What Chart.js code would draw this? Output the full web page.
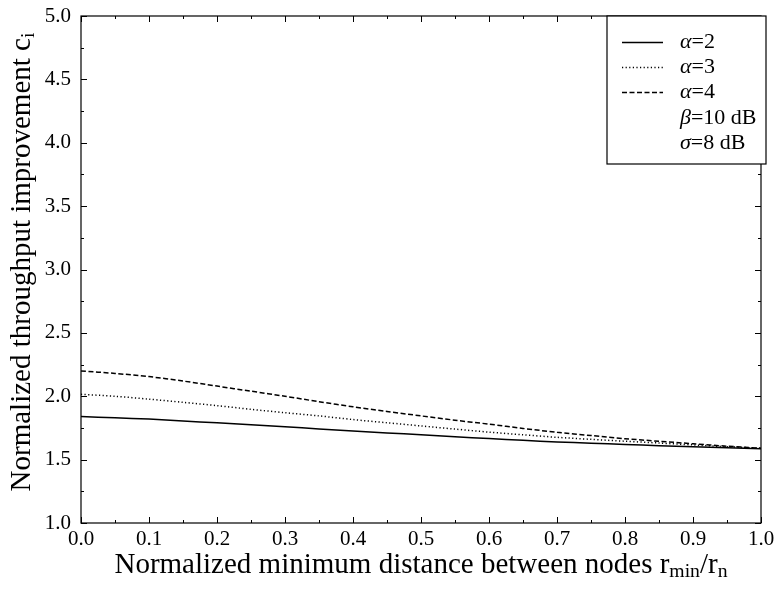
<!DOCTYPE html>
<html>
<head>
<meta charset="utf-8">
<script src="https://cdn.jsdelivr.net/npm/chart.js@4/dist/chart.umd.min.js"></script>
<style>
  html, body { margin: 0; padding: 0; background: #fff; }
  #wrap { width: 775px; height: 589px; }
</style>
</head>
<body>
<div id="wrap"><canvas id="c" width="775" height="589"></canvas></div>
<script>
// Normalized minimum distance r_min / r_n
const distances = [0.00, 0.05, 0.10, 0.15, 0.20, 0.25, 0.30, 0.35, 0.40, 0.45, 0.50,
                   0.55, 0.60, 0.65, 0.70, 0.75, 0.80, 0.85, 0.90, 0.95, 1.00];
// Throughput improvement c_i for each path-loss exponent
const alpha2 = [1.840, 1.830, 1.820, 1.805, 1.790, 1.775, 1.760, 1.742, 1.726, 1.711, 1.696,
                1.681, 1.666, 1.652, 1.640, 1.630, 1.620, 1.610, 1.601, 1.594, 1.586];
const alpha3 = [2.015, 2.000, 1.977, 1.952, 1.926, 1.897, 1.870, 1.845, 1.816, 1.791, 1.766,
                1.741, 1.717, 1.696, 1.676, 1.660, 1.645, 1.631, 1.616, 1.602, 1.590];
const alpha4 = [2.200, 2.180, 2.155, 2.120, 2.080, 2.040, 2.000, 1.957, 1.917, 1.880, 1.845,
                1.811, 1.780, 1.746, 1.716, 1.690, 1.665, 1.645, 1.625, 1.606, 1.590];
const xTickValues = [0, 0.1, 0.2, 0.3, 0.4, 0.5, 0.6, 0.7, 0.8, 0.9, 1.0];
const yTickValues = [1.0, 1.5, 2.0, 2.5, 3.0, 3.5, 4.0, 4.5, 5.0];
const legendNotes = [["β", "=10 dB"], ["σ", "=8 dB"]];

const SERIF = '"Liberation Serif", "Times New Roman", serif';

function toPoints(ys) { return distances.map((x, i) => ({ x: x, y: ys[i] })); }

const series = [
  { label: "2", data: alpha2, dash: [] },
  { label: "3", data: alpha3, dash: [1.2, 2.4] },
  { label: "4", data: alpha4, dash: [5, 2.5] }
];

// Measures / draws a string made of [text, isSub, isItalic] pieces
function richWidth(ctx, pieces, size) {
  let w = 0;
  for (const p of pieces) {
    const s = p[1] ? size * 0.68 : size;
    ctx.font = (p[2] ? "italic " : "") + s + "px " + SERIF;
    w += ctx.measureText(p[0]).width;
  }
  return w;
}
function richDraw(ctx, pieces, x, y, size) {
  for (const p of pieces) {
    const s = p[1] ? size * 0.68 : size;
    ctx.font = (p[2] ? "italic " : "") + s + "px " + SERIF;
    ctx.fillText(p[0], x, p[1] ? y + size * 0.22 : y);
    x += ctx.measureText(p[0]).width;
  }
}

const framePlugin = {
  id: "frameTicks",
  afterDraw(chart) {
    const ctx = chart.ctx;
    const a = chart.chartArea;
    const xs = chart.scales.x, ys = chart.scales.y;
    ctx.save();
    ctx.strokeStyle = "#000";
    ctx.lineWidth = 1.2;
    ctx.setLineDash([]);
    ctx.strokeRect(a.left, a.top, a.right - a.left, a.bottom - a.top);

    // inward ticks on all four sides
    ctx.lineWidth = 1;
    ctx.beginPath();
    for (let i = 0; i <= 20; i++) {
      const px = Math.round(xs.getPixelForValue(i * 0.05)) + 0.5;
      const len = i % 2 === 0 ? 6 : 3;
      ctx.moveTo(px, a.bottom); ctx.lineTo(px, a.bottom - len);
      ctx.moveTo(px, a.top); ctx.lineTo(px, a.top + len);
    }
    for (let i = 0; i <= 16; i++) {
      const py = Math.round(ys.getPixelForValue(1 + i * 0.25)) + 0.5;
      const len = i % 2 === 0 ? 6 : 3;
      ctx.moveTo(a.left, py); ctx.lineTo(a.left + len, py);
      ctx.moveTo(a.right, py); ctx.lineTo(a.right - len, py);
    }
    ctx.stroke();

    // axis titles
    ctx.fillStyle = "#000";
    ctx.textBaseline = "middle";
    ctx.textAlign = "left";
    const tSize = 29;
    const xt = [["Normalized minimum distance between nodes r", false], ["min", true], ["/r", false], ["n", true]];
    const xw = richWidth(ctx, xt, tSize);
    richDraw(ctx, xt, (a.left + a.right) / 2 - xw / 2, 565, tSize);

    const yt = [["Normalized throughput improvement c", false], ["i", true]];
    const yw = richWidth(ctx, yt, tSize);
    ctx.save();
    ctx.translate(22, 262);
    ctx.rotate(-Math.PI / 2);
    richDraw(ctx, yt, -yw / 2, 0, tSize);
    ctx.restore();

    // legend box
    const bx = 607, by = a.top, bw = 766 - 607, bh = 148;
    ctx.fillStyle = "#fff";
    ctx.fillRect(bx, by, bw, bh);
    ctx.lineWidth = 1.2;
    ctx.strokeRect(bx, by, bw, bh);
    ctx.fillStyle = "#000";
    const rowY = [42, 67, 92, 118, 143];
    const lSize = 22;
    chart.data.datasets.forEach((ds, i) => {
      const y = rowY[i] + 0.5;
      ctx.beginPath();
      ctx.setLineDash(ds.borderDash || []);
      ctx.lineWidth = ds.borderWidth;
      ctx.strokeStyle = ds.borderColor;
      ctx.moveTo(622, y); ctx.lineTo(663, y);
      ctx.stroke();
      ctx.setLineDash([]);
      richDraw(ctx, [["α", false, true], ["=" + series[i].label, false]], 680, rowY[i], lSize);
    });
    legendNotes.forEach((n, j) => {
      richDraw(ctx, [[n[0], false, true], [n[1], false]], 680, rowY[3 + j], lSize);
    });
    ctx.restore();
  }
};

new Chart(document.getElementById("c"), {
  type: "line",
  data: {
    datasets: series.map(s => ({
      label: "α=" + s.label,
      data: toPoints(s.data),
      borderColor: "#000",
      borderWidth: 1.5,
      borderDash: s.dash,
      pointRadius: 0,
      tension: 0.3,
      fill: false
    }))
  },
  options: {
    responsive: false,
    animation: false,
    events: [],
    layout: { padding: { left: 0, top: 16, right: 14, bottom: 0 } },
    plugins: { legend: { display: false }, tooltip: { enabled: false } },
    scales: {
      x: {
        type: "linear",
        min: 0, max: 1,
        afterBuildTicks(scale) { scale.ticks = xTickValues.map(v => ({ value: v })); },
        afterFit(scale) { scale.height = 66; scale.paddingLeft = 0; scale.paddingRight = 0; },
        grid: { display: false, drawTicks: false },
        border: { display: false },
        ticks: {
          color: "#000",
          padding: 4,
          maxRotation: 0,
          font: { family: SERIF, size: 21 },
          callback: v => Number(v).toFixed(1)
        }
      },
      y: {
        type: "linear",
        min: 1, max: 5,
        afterBuildTicks(scale) { scale.ticks = yTickValues.map(v => ({ value: v })); },
        afterFit(scale) { scale.width = 81; scale.paddingTop = 0; scale.paddingBottom = 0; },
        grid: { display: false, drawTicks: false },
        border: { display: false },
        ticks: {
          color: "#000",
          padding: 10,
          font: { family: SERIF, size: 21 },
          callback: v => Number(v).toFixed(1)
        }
      }
    }
  },
  plugins: [framePlugin]
});
</script>
</body>
</html>
